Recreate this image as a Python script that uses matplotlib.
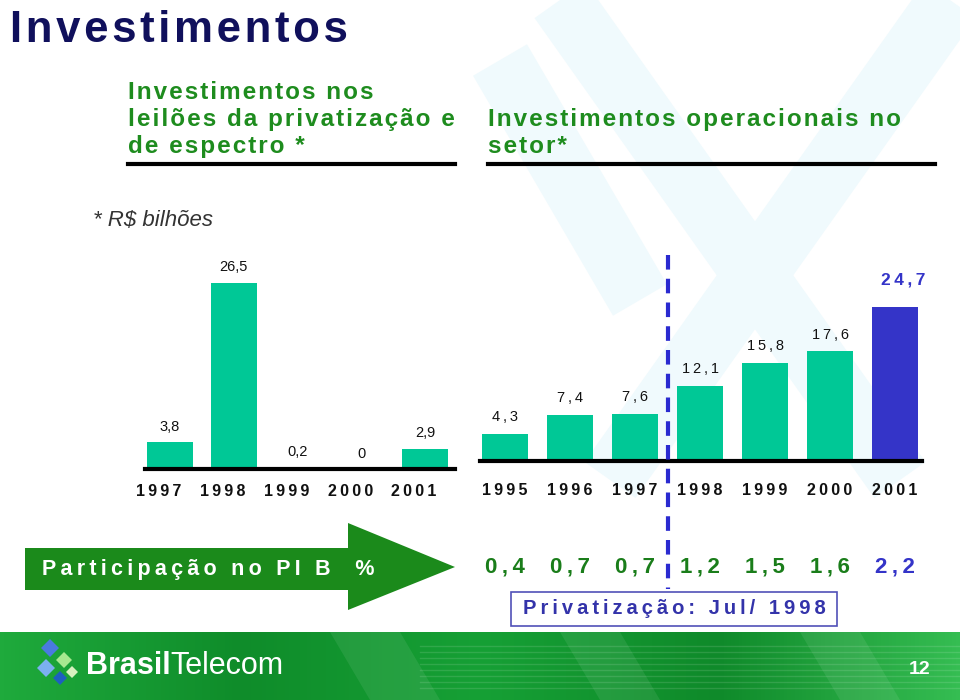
import matplotlib.pyplot as plt
import numpy as np
from matplotlib.patches import Polygon, Rectangle
from matplotlib.colors import LinearSegmentedColormap
from matplotlib.transforms import blended_transform_factory, ScaledTranslation

# data
left_years = ['1997', '1998', '1999', '2000', '2001']
left_values = [3.8, 26.5, 0.2, 0, 2.9]

right_years = ['1995', '1996', '1997', '1998', '1999', '2000', '2001']
right_values = [4.3, 7.4, 7.6, 12.1, 15.8, 17.6, 24.7]

pib_values = [0.4, 0.7, 0.7, 1.2, 1.5, 1.6, 2.2]

TEAL = '#00c896'
BLUE = '#3434c8'
NAVY = '#10105c'
GREEN_TXT = '#1e8c1e'
PIB_GREEN = '#1a7d1a'
ARROW = '#1b8a1b'

plt.rcParams['font.family'] = ['Liberation Sans', 'DejaVu Sans']

W, H = 960, 700
HAIR = '\u200a'
THIN = '\u2009'


def sp(s, gap=THIN):
    return gap.join(s)


def br(v):
    return '0' if v == 0 else f'{v:.1f}'.replace('.', ',')


fig = plt.figure(figsize=(9.6, 7), dpi=100)
bg = fig.add_axes([0, 0, 1, 1], zorder=0)
bg.axis('off')


def px_axes(x0, y0, x1, y1):
    return fig.add_axes([x0 / W, 1 - y1 / H, (x1 - x0) / W, (y1 - y0) / H], zorder=2)


# faint watermark
for (xa, ya, xb, yb) in [(560, 0, 900, 480), (950, 0, 610, 480), (500, 60, 640, 300)]:
    bg.plot([xa, xb], [ya, yb], color='#f0fafd', lw=45, solid_capstyle='butt', zorder=0)

# titles
bg.text(10, 42, sp('Investimentos', HAIR), fontsize=31.5, fontweight='bold', color=NAVY,
        va='baseline', ha='left')
for i, line in enumerate(['Investimentos nos', 'leilões da privatização e', 'de espectro *']):
    bg.text(128, 99 + 27 * i, sp(line, HAIR), fontsize=17.5, fontweight='bold', color=GREEN_TXT,
            va='baseline', ha='left')
for i, line in enumerate(['Investimentos operacionais no', 'setor*']):
    bg.text(488, 126 + 27 * i, sp(line, HAIR), fontsize=17.5, fontweight='bold', color=GREEN_TXT,
            va='baseline', ha='left')
bg.plot([128, 455], [164, 164], color='black', lw=3)
bg.plot([488, 935], [164, 164], color='black', lw=3)
bg.text(93, 221, '* R$ bilhões', fontsize=16, style='italic', color='#333333', va='center', ha='left')

# left chart
ax1 = px_axes(145, 272, 455, 469)
b1 = ax1.bar(range(len(left_values)), left_values, width=0.72, color=TEAL)
ax1.bar_label(b1, labels=[br(v) for v in left_values], padding=6, fontsize=10.5, color='#111111')
ax1.set_xlim(-0.39, 4.47)
ax1.set_ylim(0, 28)

# right chart
ax2 = px_axes(480, 299, 922, 461)
colors = [BLUE if y == '2001' else TEAL for y in right_years]
b2 = ax2.bar(range(len(right_values)), right_values, width=0.71, color=colors)
lbl = ax2.bar_label(b2, labels=[sp(br(v)) for v in right_values], padding=7, fontsize=10.5,
                    color='#111111')
lbl[-1].set_color(BLUE)
lbl[-1].set_fontweight('bold')
lbl[-1].set_fontsize(12.5)
lbl[-1].xyann = (6, 14)
ax2.set_xlim(-0.385, 6.415)
ax2.set_ylim(0, 26)

for ax, years, pad in [(ax1, left_years, 11), (ax2, right_years, 16)]:
    ax.patch.set_alpha(0)
    for s in ['top', 'left', 'right']:
        ax.spines[s].set_visible(False)
    ax.spines['bottom'].set_linewidth(3)
    ax.spines['bottom'].set_color('black')
    ax.set_yticks([])
    ax.set_xticks(range(len(years)), [sp(y) for y in years], fontsize=11.5, fontweight='bold')
    ax.tick_params(axis='x', length=0, pad=pad, colors='#111111')

# left year labels sit a little left of their bars in the original
shift = ScaledTranslation(-11 / 100, 0, fig.dpi_scale_trans)
for t in ax1.get_xticklabels():
    t.set_transform(t.get_transform() + shift)

# privatization divider and PIB row
tr = blended_transform_factory(ax2.transData, bg.transData)
ax2.plot([2.5, 2.5], [255, 589], transform=tr, clip_on=False, color='#2a2ad0', lw=3,
         dashes=(3.5, 2.2), zorder=5)
for i, v in enumerate(pib_values):
    last = i == len(pib_values) - 1
    ax2.text(i, 572, sp(br(v)), transform=tr, fontsize=16, fontweight='bold', ha='center',
             va='baseline', color=BLUE if last else PIB_GREEN)

# arrow
arrow = Polygon([(25, 548), (348, 548), (348, 523), (455, 567), (348, 610), (348, 590), (25, 590)],
                closed=True, facecolor=ARROW, edgecolor='none')
bg.add_patch(arrow)
bg.text(42, 569, sp('Participação no PI B  %'), fontsize=15.5, fontweight='bold', color='white',
        va='center', ha='left')

bg.add_patch(Rectangle((511, 592), 326, 34, facecolor='white', edgecolor='#5050b8', lw=1.2))
bg.text(674, 609, sp('Privatização: Jul/ 1998'), fontsize=14.5, fontweight='bold', color='#3333aa',
        va='center', ha='center')

# footer banner
cmap = LinearSegmentedColormap.from_list('ban', ['#1faa3c', '#0f8c2a', '#16a035', '#0f8a2a', '#35bd52'])
bg.imshow(np.linspace(0, 1, 256)[None, :], cmap=cmap, extent=[0, W, H, 632], aspect='auto', zorder=1)
for (x0, x1) in [(330, 400), (560, 620), (800, 860)]:
    bg.add_patch(Polygon([(x0, 632), (x1, 632), (x1 + 40, H), (x0 + 40, H)], closed=True,
                         facecolor='white', alpha=0.08, edgecolor='none', zorder=2))
for y in range(646, 694, 6):
    bg.plot([420, 960], [y, y], color='white', alpha=0.12, lw=1, zorder=2)
for (cx, cy, s, c) in [(50, 648, 9, '#4a7ae0'), (64, 660, 8, '#a8e890'), (46, 668, 9, '#7bb0f0'),
                       (60, 678, 7, '#1d5fc0'), (72, 672, 6, '#d8f0c0')]:
    bg.add_patch(Polygon([(cx, cy - s), (cx + s, cy), (cx, cy + s), (cx - s, cy)], closed=True,
                         facecolor=c, edgecolor='none', zorder=3))
t = bg.text(86, 666, 'Brasil', fontsize=22, fontweight='bold', color='white', va='center', ha='left',
            zorder=4)
fig.canvas.draw()
bb = t.get_window_extent()
x_end = bg.transData.inverted().transform((bb.x1, bb.y0))[0]
bg.text(x_end, 666, 'Telecom', fontsize=22, color='white', va='center', ha='left', zorder=4)
bg.text(930, 670, '12', fontsize=14, fontweight='bold', color='white', va='center', ha='right', zorder=4)

bg.set_xlim(0, W)
bg.set_ylim(H, 0)

fig.savefig('out.png', dpi=100)
